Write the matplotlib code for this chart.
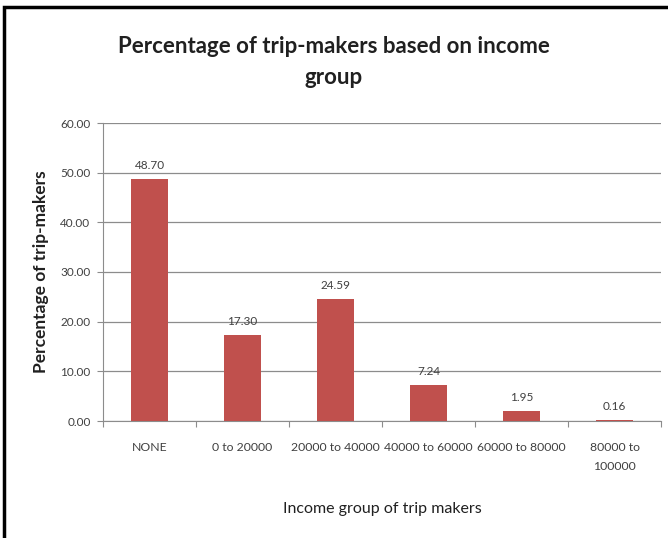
import matplotlib
matplotlib.use("Agg")
import matplotlib.pyplot as plt
from matplotlib.patches import Rectangle
import numpy as np

categories = ["NONE", "0 to 20000", "20000 to 40000", "40000 to 60000",
              "60000 to 80000", "80000 to\n100000"]
percentages = [48.70, 17.30, 24.59, 7.24, 1.95, 0.16]
y_ticks = [0, 10, 20, 30, 40, 50, 60]

plt.rcParams['font.family'] = ['Lato', 'DejaVu Sans']

fig = plt.figure(figsize=(6.68, 5.38), dpi=100)
ax = fig.add_axes([103 / 668, 1 - 421 / 538, (661 - 103) / 668, (421 - 123) / 538])

x = np.arange(len(categories))
ax.bar(x, percentages, width=0.4, color="#C0504D", zorder=3)

for xi, v in zip(x, percentages):
    ax.text(xi, v + 1.6, f"{v:.2f}", ha="center", va="bottom",
            fontsize=8.5, color="#404040")

ax.set_xlim(-0.5, len(categories) - 0.5)
ax.set_ylim(0, 60)
ax.set_yticks(y_ticks)
ax.set_yticklabels([f"{t:.2f}" for t in y_ticks], fontsize=8.5, color="#404040")
ax.yaxis.grid(True, color="#8c8c8c", linewidth=0.9, zorder=0)
ax.tick_params(axis="y", length=4, color="#8c8c8c", pad=5)

# category boundaries carry the tick marks, labels sit in the middle
ax.set_xticks(np.arange(-0.5, len(categories), 1.0))
ax.set_xticklabels([])
ax.set_xticks(x, minor=True)
ax.set_xticklabels(categories, minor=True, fontsize=8.8, color="#404040",
                   va="top", linespacing=1.9)
ax.tick_params(axis="x", which="major", length=4, color="#8c8c8c")
ax.tick_params(axis="x", which="minor", length=0, pad=15)

for side in ("top", "right"):
    ax.spines[side].set_visible(False)
ax.spines["left"].set_color("#8c8c8c")
ax.spines["bottom"].set_color("#8c8c8c")

ax.set_ylabel("Percentage of trip-makers", fontsize=12.5, fontweight="bold",
              color="#202020", labelpad=8)
ax.set_xlabel("Income group of trip makers", fontsize=11.5, color="#202020",
              labelpad=22)

fig.text(0.5, 1 - 62 / 538, "Percentage of trip-makers based on income\ngroup",
         ha="center", va="center", fontsize=16, fontweight="bold",
         color="#202020", linespacing=1.6)

# frame line along the left and top edges
fig.add_artist(Rectangle((4 / 668, -0.1), 1.2, 1 - 7 / 538 + 0.1,
                         transform=fig.transFigure, fill=False,
                         edgecolor="black", linewidth=2.5))

fig.savefig("out.png", dpi=100)
